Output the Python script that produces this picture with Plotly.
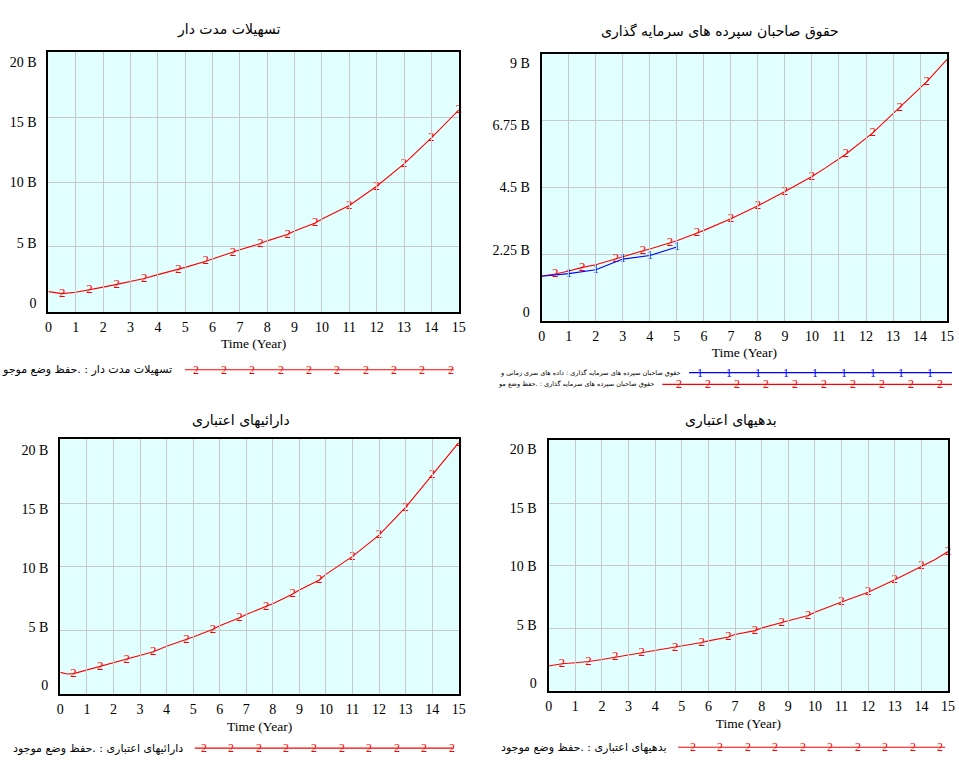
import plotly.graph_objects as go

W, H = 959, 767

# ---- data (values in billions) ----
facil_t = [0, 0.5, 1, 1.5, 2, 2.5, 3, 3.5, 4, 4.75, 5, 5.75, 6, 6.75, 7, 7.75, 8, 8.75, 9, 9.75, 10, 11, 12, 13, 14, 15]
facil_v = [1.56, 1.41, 1.51, 1.69, 1.91, 2.12, 2.34, 2.57, 2.87, 3.25, 3.43, 3.90, 4.08, 4.58, 4.79, 5.26, 5.47, 5.97, 6.22, 6.85, 7.15, 8.19, 9.67, 11.39, 13.40, 15.54]
facil_marks = [0.5, 1.5, 2.5, 3.5, 4.75, 5.75, 6.75, 7.75, 8.75, 9.75, 11, 12, 13, 14, 15]

equity_t = [0, 0.5, 1, 1.5, 2, 2.75, 3, 3.75, 4, 4.75, 5, 5.75, 6, 7, 8, 9, 10, 10.5, 11.25, 12.25, 13.25, 14.25, 15]
equity_v = [1.51, 1.58, 1.68, 1.80, 1.89, 2.08, 2.16, 2.36, 2.42, 2.63, 2.70, 2.96, 3.05, 3.44, 3.88, 4.36, 4.87, 5.16, 5.62, 6.34, 7.19, 8.07, 8.82]
equity_marks = [0.5, 1.5, 2.75, 3.75, 4.75, 5.75, 7, 8, 9, 10, 11.25, 12.25, 13.25, 14.25]
equity_hist_t = [0, 1, 2, 3, 4, 5]
equity_hist_v = [1.50, 1.59, 1.72, 2.08, 2.20, 2.49]

assets_t = [0, 0.25, 0.5, 1, 1.5, 2, 2.5, 3, 3.5, 4, 4.75, 5, 5.75, 6, 6.75, 7, 7.75, 8, 8.75, 9, 9.75, 10, 11, 12, 13, 14, 15]
assets_v = [1.72, 1.59, 1.62, 1.90, 2.15, 2.44, 2.74, 3.05, 3.33, 3.77, 4.28, 4.49, 5.10, 5.38, 6.00, 6.26, 6.90, 7.10, 7.87, 8.18, 8.97, 9.41, 10.82, 12.49, 14.67, 17.23, 19.74]
assets_marks = [0.5, 1.5, 2.5, 3.5, 4.75, 5.75, 6.75, 7.75, 8.75, 9.75, 11, 12, 13, 14, 15]

debts_t = [0, 0.5, 1, 1.5, 2, 2.5, 3, 3.5, 4, 4.75, 5, 5.75, 6, 6.75, 7, 7.75, 8, 8.75, 9, 9.75, 10, 11, 12, 13, 14, 14.5, 15]
debts_v = [2.02, 2.20, 2.28, 2.38, 2.54, 2.72, 2.90, 3.06, 3.24, 3.50, 3.63, 3.89, 4.02, 4.33, 4.53, 4.84, 5.05, 5.44, 5.62, 6.04, 6.30, 7.12, 7.90, 8.89, 9.97, 10.49, 11.14]
debts_marks = [0.5, 1.5, 2.5, 3.5, 4.75, 5.75, 6.75, 7.75, 8.75, 9.75, 11, 12, 13, 14, 15]

x_ticks = list(range(0, 16))
y20_ticks = [0, 5, 10, 15, 20]
y20_text = ["0", "5 B", "10 B", "15 B", "20 B"]
y9_ticks = [0, 2.25, 4.5, 6.75, 9]
y9_text = ["0", "2.25 B", "4.5 B", "6.75 B", "9 B"]

titles = ["تسهیلات مدت دار", "حقوق صاحبان سپرده های سرمایه گذاری", "دارائیهای اعتباری", "بدهیهای اعتباری"]
legend_facil = "تسهیلات مدت دار : .حفظ وضع موجو"
legend_equity_hist = "حقوق صاحبان سپرده های سرمایه گذاری : داده های سری زمانی و"
legend_equity = "حقوق صاحبان سپرده های سرمایه گذاری : .حفظ وضع مو"
legend_assets = "دارائیهای اعتباری : .حفظ وضع موجود"
legend_debts = "بدهیهای اعتباری : .حفظ وضع موجود"

RED = "#ff0000"
BLUE = "#0000ff"
BG = "#e2ffff"
GRID = "#c8c8c8"
SERIF = "Liberation Serif, Times New Roman, serif"
ARABIC = "DejaVu Sans, Arial, sans-serif"


def px_x(v):
    return v / W


def px_y(v):
    return 1 - v / H


# panel frames in pixels: (x0, x1, y_top, y_bottom, label_top, label_bottom)
panels = [
    (45, 460, 46, 311, 56, 302),
    (544, 954, 48, 320, 57, 311),
    (57, 460, 441, 701, 452, 692),
    (551, 955, 442, 698, 451, 690),
]
ymax = [20, 9, 20, 20]
yticks = [(y20_ticks, y20_text), (y9_ticks, y9_text), (y20_ticks, y20_text), (y20_ticks, y20_text)]
title_pos = [(228, 23), (724, 25), (240, 422), (735, 422)]

fig = go.Figure()
shapes = []
annotations = []
layout = dict(
    width=W, height=H, autosize=False,
    margin=dict(l=0, r=0, t=0, b=0),
    paper_bgcolor="white", plot_bgcolor="rgba(0,0,0,0)",
    showlegend=False,
)

for i, (x0, x1, yt, yb, lt, lb) in enumerate(panels):
    n = i + 1
    xa = "xaxis" if n == 1 else f"xaxis{n}"
    ya = "yaxis" if n == 1 else f"yaxis{n}"
    xs = "x" if n == 1 else f"x{n}"
    ys = "y" if n == 1 else f"y{n}"
    tv, tt = yticks[i]
    layout[xa] = dict(
        domain=[px_x(x0), px_x(x1)], anchor=ys, range=[0, 15],
        tickvals=x_ticks, ticktext=[str(v) for v in x_ticks],
        showgrid=True, gridcolor=GRID, gridwidth=1,
        showline=True, linecolor="black", linewidth=2, mirror=True,
        zeroline=False, ticks="", ticklabelstandoff=1,
        tickfont=dict(family=SERIF, size=14, color="black"),
        title=dict(text="Time (Year)", standoff=5,
                   font=dict(family=SERIF, size=13.5, color="black")),
        fixedrange=True,
    )
    layout[ya] = dict(
        domain=[px_y(yb), px_y(yt)], anchor=xs, range=[0, ymax[i]],
        tickvals=tv, showticklabels=False,
        showgrid=True, gridcolor=GRID, gridwidth=1,
        showline=True, linecolor="black", linewidth=2, mirror=True,
        zeroline=False, ticks="", fixedrange=True,
    )
    # value-label axis: Vensim spreads its value labels slightly inside the frame
    la = f"yaxis{n + 4}"
    ls = f"y{n + 4}"
    layout[la] = dict(
        domain=[px_y(lb), px_y(lt)], anchor=xs, range=[0, ymax[i]],
        tickvals=tv, ticktext=tt, showgrid=False, showline=False,
        zeroline=False, ticks="", ticklabelstandoff=11,
        tickfont=dict(family=SERIF, size=14, color="black"),
        fixedrange=True,
    )
    fig.add_trace(go.Scatter(x=[None], y=[None], xaxis=xs, yaxis=ls,
                             showlegend=False, hoverinfo="skip"))
    # panel background, kept under the grid of every overlapping subplot
    shapes.append(dict(
        type="rect", xref="paper", yref="paper", layer="below",
        x0=px_x(x0), x1=px_x(x1), y0=px_y(yb), y1=px_y(yt),
        fillcolor=BG, line=dict(width=0),
    ))


def run_trace(t, v, marks, label, color, xs, ys):
    text = [label if tt in marks else "" for tt in t]
    return go.Scatter(
        x=t, y=v, mode="lines+text", text=text, textposition="middle center",
        textfont=dict(family=SERIF, size=13, color=color),
        line=dict(color=color, width=1.1), xaxis=xs, yaxis=ys,
        cliponaxis=False, showlegend=False, hoverinfo="x+y",
    )


fig.add_trace(run_trace(facil_t, facil_v, facil_marks, "2", RED, "x", "y"))
fig.add_trace(run_trace(equity_t, equity_v, equity_marks, "2", RED, "x2", "y2"))
fig.add_trace(run_trace(equity_hist_t, equity_hist_v, equity_hist_t[1:], "1", BLUE, "x2", "y2"))
fig.add_trace(run_trace(assets_t, assets_v, assets_marks, "2", RED, "x3", "y3"))
fig.add_trace(run_trace(debts_t, debts_v, debts_marks, "2", RED, "x4", "y4"))

for text, (cx, cy) in zip(titles, title_pos):
    annotations.append(dict(
        text=text, x=px_x(cx), y=px_y(cy), xref="paper", yref="paper",
        xanchor="center", yanchor="middle", showarrow=False,
        font=dict(family=ARABIC, size=14, color="black"),
    ))


def legend_row(label, text_right, line_x0, line_x1, y, glyph, glyph_x0, glyph_x1, count, color, size):
    annotations.append(dict(
        text=label, x=px_x(text_right), y=px_y(y), xref="paper", yref="paper",
        xanchor="right", yanchor="middle", showarrow=False,
        font=dict(family=ARABIC, size=size, color="black"),
    ))
    shapes.append(dict(
        type="line", xref="paper", yref="paper",
        x0=px_x(line_x0), x1=px_x(line_x1), y0=px_y(y), y1=px_y(y),
        line=dict(color=color, width=1.2),
    ))
    step = (glyph_x1 - glyph_x0) / (count - 1)
    for k in range(count):
        annotations.append(dict(
            text=glyph, x=px_x(glyph_x0 + k * step), y=px_y(y),
            xref="paper", yref="paper", xanchor="center", yanchor="middle",
            showarrow=False, font=dict(family=SERIF, size=12, color=color),
        ))


legend_row(legend_facil, 172, 183, 455, 370, "2", 194, 452, 10, RED, 11)
legend_row(legend_equity_hist, 687, 693, 959, 373, "1", 704, 937, 9, BLUE, 6.5)
legend_row(legend_equity, 660, 666, 959, 385, "2", 683, 947, 10, RED, 6.5)
legend_row(legend_assets, 183, 193, 455, 756, "2", 202, 453, 10, RED, 11)
legend_row(legend_debts, 672, 682, 952, 755, "2", 697, 947, 10, RED, 11)

layout["annotations"] = annotations
layout["shapes"] = shapes
fig.update_layout(**layout)

fig.write_html("out.html", config={"displayModeBar": False})
